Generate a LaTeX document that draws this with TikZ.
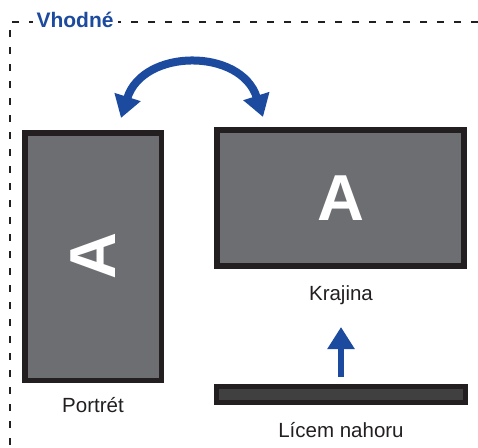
\documentclass[tikz,border=0pt]{standalone}
\usepackage{fontspec}
\setmainfont{Liberation Sans}
\usetikzlibrary{arrows.meta}
\definecolor{scrgray}{HTML}{6D6E71}
\definecolor{scrframe}{HTML}{231F20}
\definecolor{bardark}{HTML}{404041}
\definecolor{arrowblue}{HTML}{1B4A9E}
\tikzset{
  screen/.style={draw=scrframe, fill=scrgray, inner sep=0pt},
  lbl/.style={font=\fontsize{20.5}{24}\selectfont, text=scrframe, anchor=base, inner sep=0pt},
  bigA/.style={font=\fontsize{65}{70}\selectfont\bfseries, text=white, inner sep=0pt},
  bluearrow/.style={draw=arrowblue, -{Triangle[length=22pt,width=26pt]}},
  frameline/.style={draw=scrframe, line width=2.2pt, dash pattern=on 7pt off 10pt}
}
\begin{document}
\begin{tikzpicture}[x=1pt,y=-1pt]
\useasboundingbox (0,0) rectangle (478,447);
% dashed frame
\coordinate (fr) at (478,22);
\coordinate (fc) at (10,22);
\coordinate (fb) at (10,447);
\draw[frameline] (fr) -- (fc) -- (fb);
\node[fill=white, inner xsep=4pt, inner ysep=2pt, anchor=base, text=arrowblue, font=\fontsize{21}{24}\selectfont\bfseries] (title) at (75,27.5) {Vhodné};
% portrait screen
\node[screen, line width=5.5pt, minimum width=136.5pt, minimum height=247.5pt] (portrait) at (93,256.5) {};
\node[bigA, rotate=90] (pA) at (93,256) {A};
\node[lbl] (plbl) at (93,412) {Portrét};
% landscape screen
\node[screen, line width=6pt, minimum width=247pt, minimum height=136pt] (land) at (340.5,198) {};
\node[bigA] (lA) at (341,198.5) {A};
\node[lbl] (llbl) at (341,300) {Krajina};
% face-up bar
\node[draw=scrframe, fill=bardark, line width=5pt, minimum width=249pt, minimum height=16pt, inner sep=0pt] (bar) at (341,394.5) {};
\node[lbl] (blbl) at (341,437) {Lícem nahoru};
% arrows
\coordinate (upS) at (341,377);
\coordinate (upE) at (341,327);
\draw[bluearrow, line width=6pt] (upS) -- (upE);
\coordinate (cL) at (121,118);
\coordinate (cR) at (263,117);
\draw[bluearrow, {Triangle[length=22pt,width=26pt]}-{Triangle[length=22pt,width=26pt]}, line width=8pt] (cL) .. controls (143,48) and (241,48) .. (cR);
\end{tikzpicture}
\end{document}
